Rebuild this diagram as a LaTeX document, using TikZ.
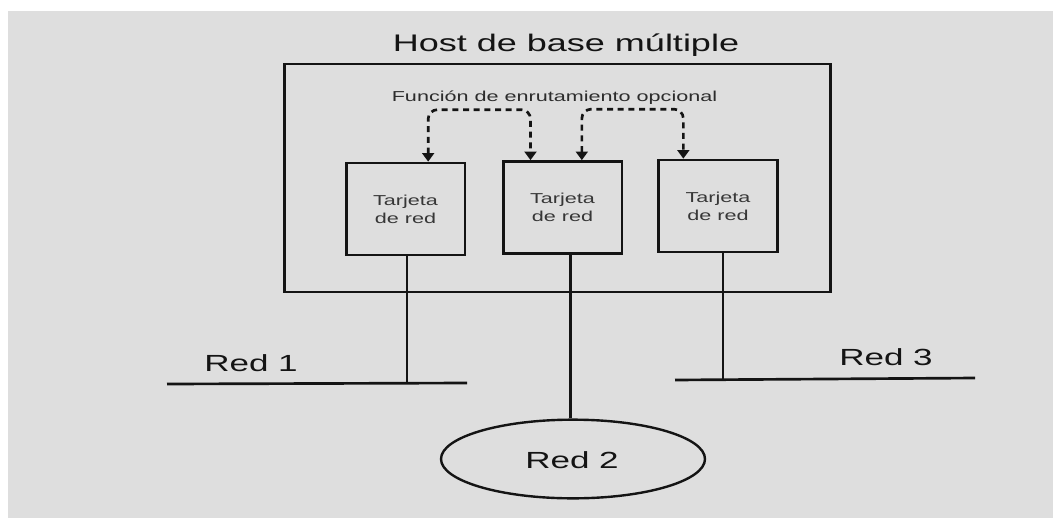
\documentclass[tikz,border=0pt]{standalone}
\usepackage{fontspec}
\setmainfont{Liberation Sans}[FakeStretch=1.5]
\usetikzlibrary{arrows.meta,shapes.geometric}
\definecolor{paper}{HTML}{DEDEDE}
\definecolor{ink}{HTML}{141414}
\tikzset{
  card/.style={draw=ink, line width=2pt, minimum width=89pt, minimum height=69pt,
    align=center, inner sep=0pt, font=\fontsize{10.8}{13.5}\selectfont, text=ink!85},
  wire/.style={draw=ink, line width=2pt},
  route/.style={draw=ink, line width=2pt, dash pattern=on 4.5pt off 3.5pt, rounded corners=7pt,
    {Triangle[width=9pt,length=6.5pt]}-{Triangle[width=9pt,length=6.5pt]}},
  netlabel/.style={font=\fontsize{17.5}{20}\selectfont, text=ink, inner sep=0pt}
}
\begin{document}
\begin{tikzpicture}[x=0.75pt,y=-0.75pt]
  % page and grey sheet
  \useasboundingbox (0,0) rectangle (1053,518);
  \fill[white] (0,0) rectangle (1053,518);
  \fill[paper] (8,11) rectangle (1053,518);

  % host box and its title
  \node[draw=ink, line width=2.2pt, minimum width=410pt, minimum height=171pt, inner sep=0pt]
    (host) at (557.5,178) {};
  \node[font=\fontsize{18}{21}\selectfont, text=ink, inner sep=0pt] (title) at (566,45)
    {Host de base múltiple};
  \node[font=\fontsize{10.8}{13}\selectfont, text=ink!90, inner sep=0pt] (func) at (554.5,98)
    {Función de enrutamiento opcional};

  % network cards
  \node[card] (c1) at (405.5,209) {Tarjeta\\de red};
  \node[card] (c2) at (562.5,207.5) {Tarjeta\\de red};
  \node[card] (c3) at (718,206) {Tarjeta\\de red};

  % optional routing links between cards
  \draw[route] ([xshift=17pt]c1.north) -- ++(0,-52) -| ([xshift=-24pt]c2.north);
  \draw[route] ([xshift=14.5pt]c2.north) -- ++(0,-51) -| ([xshift=-26pt]c3.north);

  % networks
  \coordinate (r1a) at (167,384);
  \coordinate (r1b) at (467,383);
  \coordinate (r3a) at (675,380);
  \coordinate (r3b) at (975,378);
  \draw[wire] (r1a) -- (r1b);
  \draw[wire] (r3a) -- (r3b);
  \node[draw=ink, line width=1.8pt, ellipse, minimum width=198pt, minimum height=59pt, inner sep=0pt]
    (red2) at (573,459) {};
  \node[netlabel] (lr1) at (251,363) {Red 1};
  \node[netlabel] (lr2) at (572,460) {Red 2};
  \node[netlabel] (lr3) at (886,357) {Red 3};

  % card uplinks
  \draw[wire] ([xshift=1pt]c1.south) -- ([xshift=1pt]c1.south |- r1a);
  \draw[wire] ([xshift=6pt]c2.south) -- ([xshift=6pt]c2.south |- red2.north);
  \draw[wire] ([xshift=3.75pt]c3.south) -- ([xshift=3.75pt]c3.south |- r3a);
\end{tikzpicture}
\end{document}
